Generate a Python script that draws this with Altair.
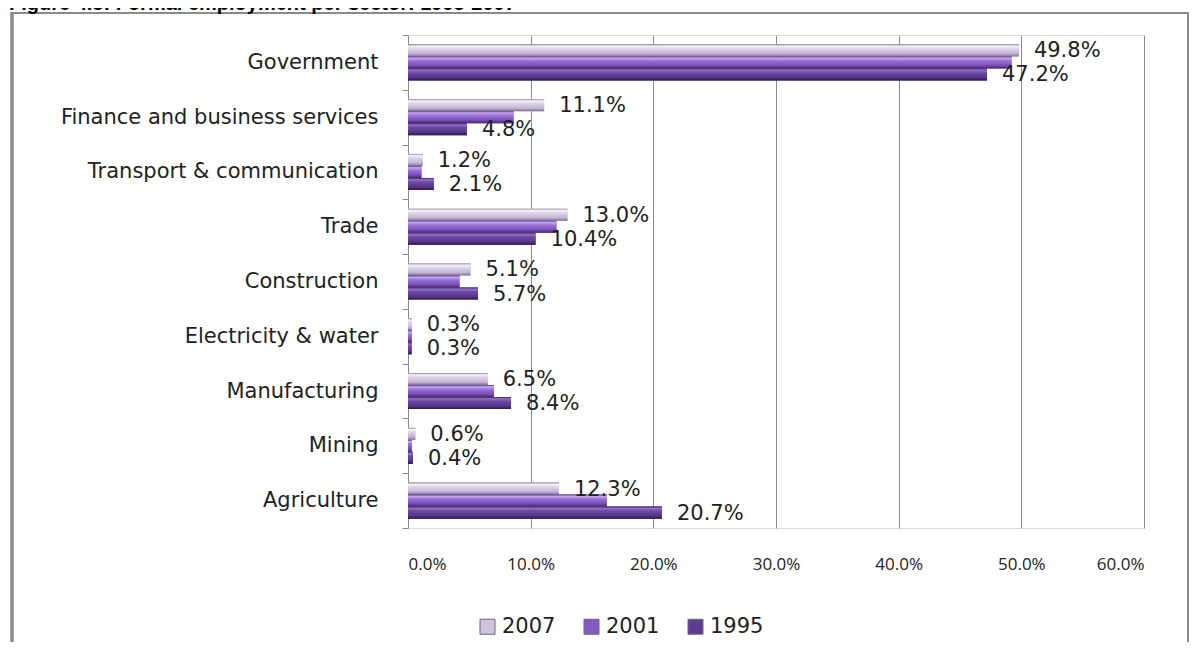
import altair as alt
import pandas as pd

# ---- data ----
sectors = [
    "Government",
    "Finance and business services",
    "Transport & communication",
    "Trade",
    "Construction",
    "Electricity & water",
    "Manufacturing",
    "Mining",
    "Agriculture",
]
years = ["2007", "2001", "1995"]
v2007 = [49.8, 11.1, 1.2, 13.0, 5.1, 0.3, 6.5, 0.6, 12.3]
v2001 = [49.2, 8.6, 1.1, 12.1, 4.2, 0.3, 7.0, 0.3, 16.2]
v1995 = [47.2, 4.8, 2.1, 10.4, 5.7, 0.3, 8.4, 0.4, 20.7]
x_ticks = [0, 10, 20, 30, 40, 50, 60]
labelled_years = ["2007", "1995"]
title_text = "Figure 4.5: Formal employment per sector: 1995-2007"

flat_colors = ["#CFC3DD", "#8459C0", "#5E3C90"]
grad_stops = {
    "2007": ["#8E8499", "#F6F1FB", "#DDD1EA", "#C3B5D4", "#7C7190"],
    "2001": ["#55328A", "#C7A8F2", "#9870D6", "#7A4EB8", "#46276F"],
    "1995": ["#38205E", "#9271C6", "#6A48A0", "#563788", "#2B164C"],
}
stop_offsets = [0.0, 0.14, 0.38, 0.75, 1.0]

rows = []
for s, a, b, c in zip(sectors, v2007, v2001, v1995):
    rows.append({"sector": s, "year": "2007", "value": a})
    rows.append({"sector": s, "year": "2001", "value": b})
    rows.append({"sector": s, "year": "1995", "value": c})
df = pd.DataFrame(rows)

x_enc = alt.X(
    "value:Q",
    scale=alt.Scale(domain=[0, 60], nice=False),
    axis=alt.Axis(
        title=None,
        values=x_ticks,
        labelExpr="format(datum.value, '.1f') + '%'",
        domain=False,
        ticks=False,
        grid=True,
        gridColor="#8c8c8c",
        gridWidth=1,
        labelFont="Open Sans",
        labelFontSize=17,
        labelColor="#222222",
        labelPadding=28,
    ),
)
y_enc = alt.Y(
    "sector:N",
    sort=sectors,
    scale=alt.Scale(domain=sectors, paddingInner=0, paddingOuter=0),
    axis=alt.Axis(
        title=None,
        domainColor="#8c8c8c",
        tickColor="#8c8c8c",
        tickSize=6,
        tickBand="extent",
        labelFont="DejaVu Sans",
        labelFontSize=21,
        labelColor="#222222",
        labelPadding=24,
        labelLimit=500,
        grid=False,
    ),
)
yoff_enc = alt.YOffset(
    "year:N",
    sort=years,
    scale=alt.Scale(domain=years, paddingInner=0, paddingOuter=0.78),
)

base = alt.Chart(df)

bars = base.mark_bar().encode(
    x=x_enc,
    y=y_enc,
    yOffset=yoff_enc,
    color=alt.Color(
        "year:N",
        sort=years,
        scale=alt.Scale(domain=years, range=flat_colors),
        legend=alt.Legend(
            title=None,
            orient="none",
            legendX=69,
            legendY=581,
            direction="horizontal",
            symbolType="square",
            symbolSize=225,
            symbolStrokeColor="#6f6482",
            symbolStrokeWidth=1,
            labelFont="DejaVu Sans",
            labelFontSize=21,
            labelColor="#222222",
            labelOffset=4,
            columnPadding=25,
            padding=0,
        ),
    ),
)

grad_layers = []
for yr in years:
    g = alt.Gradient(
        gradient="linear",
        x1=0, x2=0, y1=0, y2=1,
        stops=[alt.GradientStop(offset=o, color=c) for o, c in zip(stop_offsets, grad_stops[yr])],
    )
    grad_layers.append(
        base.transform_filter(alt.datum.year == yr)
        .mark_bar(color=g)
        .encode(x=x_enc, y=y_enc, yOffset=yoff_enc)
    )

labels = (
    base.transform_filter(alt.FieldOneOfPredicate(field="year", oneOf=labelled_years))
    .transform_calculate(label="format(datum.value, '.1f') + '%'")
    .mark_text(align="left", baseline="middle", dx=15, dy=1,
               font="DejaVu Sans", fontSize=21, color="#222222")
    .encode(x=x_enc, y=y_enc, yOffset=yoff_enc, text="label:N")
)

deco = alt.Chart(pd.DataFrame({"k": [0]}))
frame = deco.mark_rect(fillOpacity=0, stroke="#8a8a8a", strokeWidth=2).encode(
    x=alt.value(-396), x2=alt.value(780), y=alt.value(-22), y2=alt.value(700)
)
left_border = deco.mark_rule(color="#8a8a8a", strokeWidth=3.5).encode(
    x=alt.value(-396), y=alt.value(-23), y2=alt.value(700)
)
title = deco.mark_text(
    text=title_text, align="left", baseline="alphabetic",
    font="Liberation Sans", fontWeight="bold", fontSize=20, color="#000000",
).encode(x=alt.value(-399), y=alt.value(-25))

chart = (
    alt.layer(frame, left_border, title, bars, *grad_layers, labels)
    .properties(
        width=736,
        height=493,
        autosize=alt.AutoSizeParams(type="none"),
        padding={"left": 400, "top": 27, "right": 45, "bottom": 114},
    )
    .configure_view(stroke=None)
    .configure(background="white")
)

chart.save("out.html", embed_options={"renderer": "svg", "actions": False})
